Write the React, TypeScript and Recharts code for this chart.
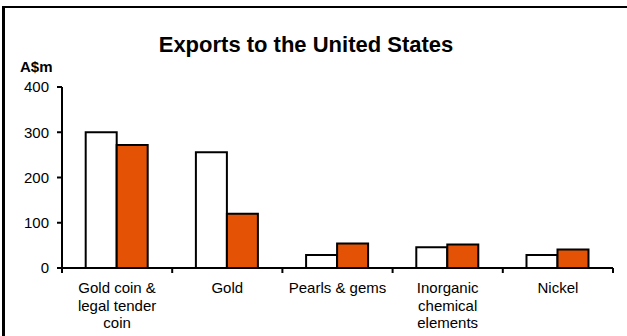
import React from "react";
import { BarChart, Bar, XAxis, YAxis } from "recharts";

const categories = [
  "Gold coin & legal tender coin",
  "Gold",
  "Pearls & gems",
  "Inorganic chemical elements",
  "Nickel",
];
const labelLines = [
  ["Gold coin &", "legal tender", "coin"],
  ["Gold"],
  ["Pearls & gems"],
  ["Inorganic", "chemical", "elements"],
  ["Nickel"],
];
const seriesWhite = [300, 256, 29, 46, 29];
const seriesOrange = [272, 120, 54, 52, 41];
const yTicks = [0, 100, 200, 300, 400];

const data = categories.map((c, i) => ({
  name: c,
  a: seriesWhite[i],
  b: seriesOrange[i],
}));

const W = 627;
const H = 336;
const M = { top: 87, right: 14, left: 0, bottom: 0 };
const Y_W = 62;
const FONT = "'Liberation Sans', Arial, sans-serif";

const XTick = (props: any) => {
  const { x, y, payload } = props;
  const idx = categories.indexOf(payload.value);
  const band = (W - M.left - M.right - Y_W) / categories.length;
  const lines = labelLines[idx] || [payload.value];
  return (
    <g>
      <line x1={x - band / 2} x2={x - band / 2} y1={y} y2={y + 5} stroke="#000" strokeWidth={2} />
      {idx === categories.length - 1 && (
        <line x1={x + band / 2} x2={x + band / 2} y1={y} y2={y + 5} stroke="#000" strokeWidth={2} />
      )}
      <text x={x} y={y + 25} textAnchor="middle" fontFamily={FONT} fontSize={15} fill="#000">
        {lines.map((l, i) => (
          <tspan key={i} x={x} dy={i === 0 ? 0 : 17.5}>
            {l}
          </tspan>
        ))}
      </text>
    </g>
  );
};

export default function App() {
  return (
    <div
      style={{
        position: "absolute",
        left: 0,
        top: 0,
        width: W,
        height: H,
        overflow: "hidden",
        background: "#fff",
      }}
    >
      <div
        style={{
          position: "absolute",
          left: 2,
          top: 6,
          width: 800,
          height: 600,
          borderTop: "2px solid #000",
          borderLeft: "3px solid #000",
        }}
      />
      <div style={{ position: "absolute", left: 0, top: 0 }}>
        <BarChart
          width={W}
          height={H}
          data={data}
          margin={M}
          barCategoryGap="21.5%"
          barGap={0}
        >
          <XAxis
            dataKey="name"
            height={68}
            axisLine={{ stroke: "#000", strokeWidth: 2 }}
            tickLine={false}
            tickSize={0}
            tickMargin={0}
            interval={0}
            tick={<XTick />}
          />
          <YAxis
            width={Y_W}
            domain={[0, 400]}
            ticks={yTicks}
            interval={0}
            axisLine={{ stroke: "#000", strokeWidth: 2 }}
            tickLine={{ stroke: "#000", strokeWidth: 2 }}
            tickSize={5}
            tickMargin={8}
            tick={{ fill: "#000", fontSize: 15, fontFamily: FONT }}
          />
          <Bar dataKey="a" fill="#fff" stroke="#000" strokeWidth={2} isAnimationActive={false} />
          <Bar dataKey="b" fill="#E35205" stroke="#000" strokeWidth={2} isAnimationActive={false} />
        </BarChart>
      </div>
      <svg
        width={W}
        height={H}
        style={{ position: "absolute", left: 0, top: 0, pointerEvents: "none" }}
      >
        <text x={306} y={52} textAnchor="middle" fontFamily={FONT} fontWeight="bold" fontSize={22} fill="#000">
          Exports to the United States
        </text>
        <text x={20} y={72} fontFamily={FONT} fontWeight="bold" fontSize={15} fill="#000">
          A$m
        </text>
      </svg>
    </div>
  );
}
